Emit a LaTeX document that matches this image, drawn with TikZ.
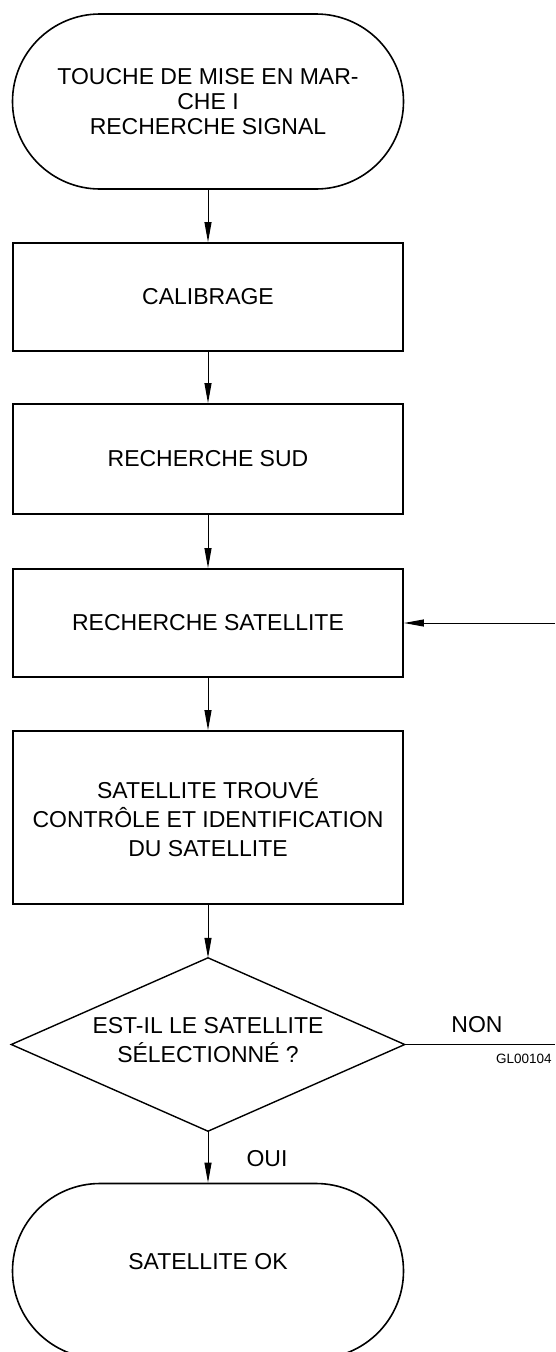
\documentclass[tikz,border=0pt]{standalone}
\usepackage{fontspec}
\setmainfont{Liberation Sans}
\usetikzlibrary{shapes.misc,arrows.meta}
\begin{document}
\begin{tikzpicture}[x=1pt,y=-1pt,
  txt/.style={font=\fontsize{23}{29}\selectfont},
  box/.style={draw, line width=1.8pt, minimum width=390pt, inner sep=0pt, align=center, txt},
  term/.style={draw, line width=1.6pt, rounded rectangle, minimum width=391pt, minimum height=175pt, inner sep=0pt, align=center, txt},
  dec/.style={minimum width=393pt, minimum height=173pt, inner sep=0pt, align=center, txt},
  arr/.style={line width=1pt, -{Triangle[length=20pt,width=7pt]}},
  lbl/.style={inner sep=0pt, txt}
]
\useasboundingbox (0,0) rectangle (555,1352);

\node[term, font=\fontsize{23}{25}\selectfont] (t1) at (208,101.5) {TOUCHE DE MISE EN MAR-\\CHE I\\RECHERCHE SIGNAL};
\node[box, minimum height=108pt] (cal) at (208,297) {CALIBRAGE};
\node[box, minimum height=110pt] (sud) at (208,459) {RECHERCHE SUD};
\node[box, minimum height=108pt] (rs) at (208,623) {RECHERCHE SATELLITE};
\node[box, minimum height=173pt] (big) at (208,817.5) {SATELLITE TROUVÉ\\CONTRÔLE ET IDENTIFICATION\\DU SATELLITE};
\node[dec] (dec) at (208,1044.5) {};
\node[lbl, align=center] (dectxt) at (208,1040.5) {EST-IL LE SATELLITE\\SÉLECTIONNÉ ?};
\draw[line width=1.4pt, line join=miter] (dec.north) -- (dec.east) -- (dec.south) -- (dec.west) -- cycle;
\node[term] (t2) at (208,1271) {};
\node[lbl] (t2txt) at (208,1262) {SATELLITE OK};

\node[lbl] (non) at (477,1025) {NON};
\node[lbl] (oui) at (267,1159) {OUI};
\node[inner sep=0pt, anchor=west, font=\fontsize{13.5}{16}\selectfont] (gl) at (496,1059) {GL00104};

\coordinate (fb) at (555,623);
\coordinate (nonend) at (555,1044.5);

\draw[arr] (t1.south) -- (cal.north);
\draw[arr] (cal.south) -- (sud.north);
\draw[arr] (sud.south) -- (rs.north);
\draw[arr] (rs.south) -- (big.north);
\draw[arr] (big.south) -- (dec.north);
\draw[arr] (dec.south) -- (t2.north);
\draw[arr] (fb) -- (rs.east);
\draw[line width=1pt] (dec.east) -- (nonend);
\end{tikzpicture}
\end{document}
